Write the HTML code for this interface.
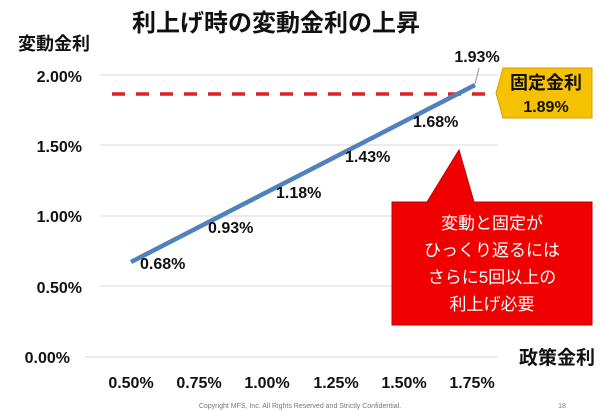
<!DOCTYPE html>
<html><head><meta charset="utf-8"><style>
body{margin:0;background:#fff;}
svg{display:block;font-family:"Liberation Sans","Noto Sans CJK JP",sans-serif;}
</style></head><body>
<svg width="600" height="412" viewBox="0 0 600 412">
<text x="276" y="31" font-size="24" font-weight="bold" text-anchor="middle" fill="#111">利上げ時の変動金利の上昇</text>
<text x="18" y="50" font-size="18" font-weight="bold" fill="#111">変動金利</text>
<g stroke="#d9d9d9" stroke-width="1">
<line x1="100" y1="75" x2="498" y2="75"/><line x1="100" y1="145" x2="498" y2="145"/>
<line x1="100" y1="216" x2="498" y2="216"/><line x1="100" y1="286" x2="498" y2="286"/>
<line x1="85" y1="357" x2="498" y2="357"/></g>
<g font-size="16" font-weight="bold" fill="#111" text-anchor="end">
<text x="82" y="82">2.00%</text><text x="82" y="152">1.50%</text><text x="82" y="222">1.00%</text>
<text x="82" y="293">0.50%</text><text x="70" y="363">0.00%</text></g>
<g font-size="16" font-weight="bold" fill="#111" text-anchor="middle">
<text x="131" y="388">0.50%</text><text x="199" y="388">0.75%</text><text x="267" y="388">1.00%</text>
<text x="336" y="388">1.25%</text><text x="404" y="388">1.50%</text><text x="472" y="388">1.75%</text></g>
<text x="595" y="364" font-size="19" font-weight="bold" text-anchor="end" fill="#111">政策金利</text>
<line x1="112" y1="94" x2="498" y2="94" stroke="#e02020" stroke-width="3.5" stroke-dasharray="13,11"/>
<line x1="131" y1="262" x2="475" y2="85" stroke="#4f81bd" stroke-width="4.5"/>
<line x1="475" y1="84" x2="479" y2="68" stroke="#999" stroke-width="1"/>
<g font-size="16" font-weight="bold" fill="#111">
<text x="140" y="269">0.68%</text><text x="208" y="233">0.93%</text><text x="276" y="198">1.18%</text>
<text x="345" y="162">1.43%</text><text x="413" y="127">1.68%</text><text x="477" y="62" text-anchor="middle">1.93%</text></g>
<path d="M503,68 L592,68 L592,118 L503,118 L496,93 Z" fill="#f5c100" stroke="#d9a000"/>
<text x="546" y="89" font-size="18" font-weight="bold" text-anchor="middle" fill="#111">固定金利</text>
<text x="546" y="112" font-size="16" font-weight="bold" text-anchor="middle" fill="#111">1.89%</text>
<path d="M392,202 L427,202 L459,150 L474,202 L592,202 L592,325 L392,325 Z" fill="#f00000" stroke="#c00000"/>
<g font-size="17" fill="#fff" text-anchor="middle">
<text x="492" y="229">変動と固定が</text><text x="492" y="256">ひっくり返るには</text>
<text x="492" y="283">さらに5回以上の</text><text x="492" y="310">利上げ必要</text></g>
<text x="300" y="408" font-size="7" fill="#777" text-anchor="middle">Copyright MFS, Inc.  All Rights Reserved and Strictly Confidential.</text>
<text x="562" y="408" font-size="7" fill="#777" text-anchor="middle">18</text>
</svg>
</body></html>
